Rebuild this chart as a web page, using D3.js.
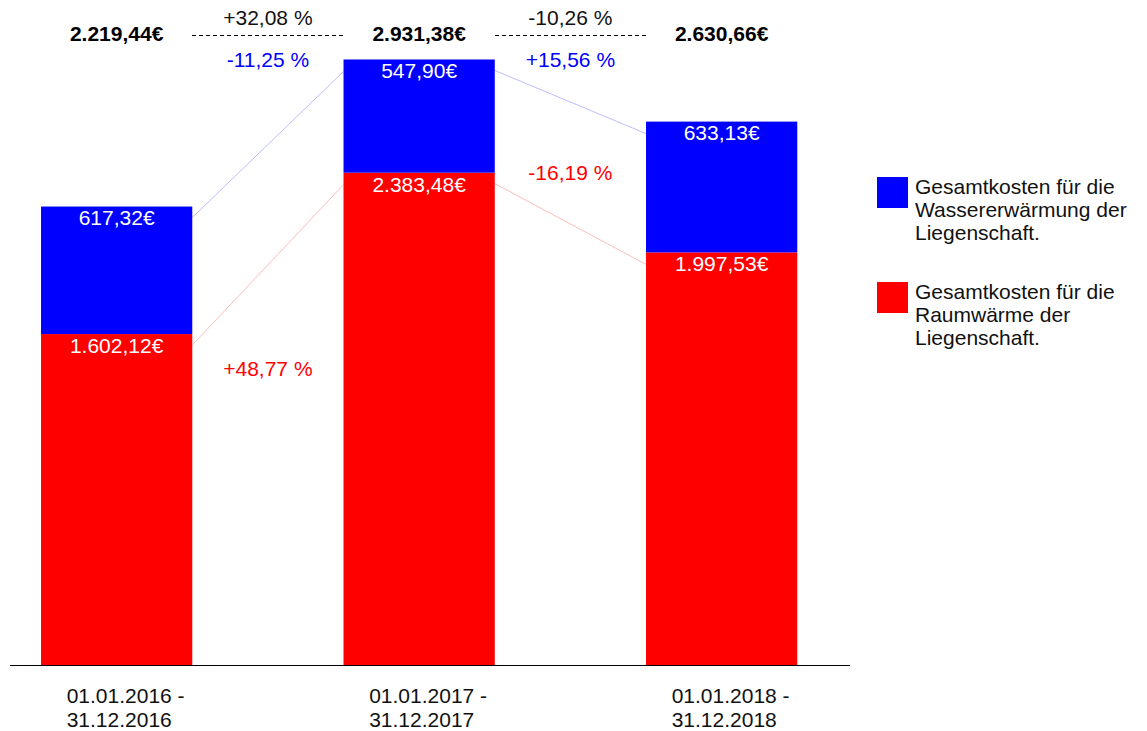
<!DOCTYPE html>
<html>
<head>
<meta charset="utf-8">
<style>
body {margin:0; background:#fff;}
text {font-family:'Liberation Sans', Arial, sans-serif; font-size:21px;}
</style>
<script src="https://d3js.org/d3.v7.min.js"></script>
</head>
<body>
<svg id="chart" width="1147" height="731"></svg>
<script>
// data
var periodStart = ['01.01.2016 -', '01.01.2017 -', '01.01.2018 -'];
var periodEnd   = ['31.12.2016', '31.12.2017', '31.12.2018'];
var heating = [1602.12, 2383.48, 1997.53];   // Raumwärme
var water   = [617.32, 547.90, 633.13];      // Wassererwärmung
var legendWater   = ['Gesamtkosten für die', 'Wassererwärmung der', 'Liegenschaft.'];
var legendHeating = ['Gesamtkosten für die', 'Raumwärme der', 'Liegenschaft.'];

var BLUE = '#0000ff', RED = '#ff0000';
var de = d3.formatLocale({decimal:',', thousands:'.', grouping:[3], currency:['', '€'], minus:'-'});
var fmtEur = function(v) {return de.format(',.2f')(v)+'€';};
var fmtPct = function(v) {return de.format('+.2f')(v*100)+' %';};

var totals = heating.map(function(h,i) {return h+water[i];});
var idx = d3.range(periodStart.length);

var svg = d3.select('#chart');
var x = d3.scaleBand().domain(idx).range([-34.6, 872.9]).paddingInner(0.5).paddingOuter(0.25);
var y = d3.scaleLinear().domain([0, 3200]).range([665, 4]);

// bars
var g = svg.append('g');
g.selectAll('rect.heat').data(idx).enter().append('rect')
 .attr('x', function(i) {return x(i);}).attr('width', x.bandwidth())
 .attr('y', function(i) {return y(heating[i]);})
 .attr('height', function(i) {return y(0)-y(heating[i]);})
 .attr('fill', RED);
g.selectAll('rect.water').data(idx).enter().append('rect')
 .attr('x', function(i) {return x(i);}).attr('width', x.bandwidth())
 .attr('y', function(i) {return y(totals[i]);})
 .attr('height', function(i) {return y(heating[i])-y(totals[i]);})
 .attr('fill', BLUE);

// value labels inside bars
g.selectAll('text.hv').data(idx).enter().append('text')
 .attr('x', function(i) {return x(i)+x.bandwidth()/2;})
 .attr('y', function(i) {return y(heating[i])+19;})
 .attr('text-anchor', 'middle').attr('fill', '#fff')
 .text(function(i) {return fmtEur(heating[i]);});
g.selectAll('text.wv').data(idx).enter().append('text')
 .attr('x', function(i) {return x(i)+x.bandwidth()/2;})
 .attr('y', function(i) {return y(totals[i])+18.5;})
 .attr('text-anchor', 'middle').attr('fill', '#fff')
 .text(function(i) {return fmtEur(water[i]);});

// totals on top
g.selectAll('text.tot').data(idx).enter().append('text')
 .attr('x', function(i) {return x(i)+x.bandwidth()/2;})
 .attr('y', 40.5).attr('text-anchor', 'middle')
 .attr('font-weight', 'bold').attr('fill', '#000')
 .text(function(i) {return fmtEur(totals[i]);});

// connecting lines and change labels between neighbouring bars
var pairs = idx.slice(1);
var redLabelY = [376, 180];
pairs.forEach(function(i, k) {
  var x0 = x(i-1)+x.bandwidth(), x1 = x(i), xm = (x0+x1)/2;
  // total: dashed line with change above
  g.append('line').attr('x1', x0).attr('x2', x1).attr('y1', 35.5).attr('y2', 35.5)
   .attr('stroke', '#000').attr('stroke-width', 1).attr('stroke-dasharray', '4,3')
   .attr('shape-rendering', 'crispEdges');
  g.append('text').attr('x', xm).attr('y', 25).attr('text-anchor', 'middle').attr('fill', '#111')
   .text(fmtPct(totals[i]/totals[i-1]-1));
  // water
  g.append('line').attr('x1', x0).attr('x2', x1)
   .attr('y1', y(totals[i-1])+11).attr('y2', y(totals[i])+12)
   .attr('stroke', BLUE).attr('stroke-width', 0.6).attr('stroke-opacity', 0.45);
  g.append('text').attr('x', xm).attr('y', 66.5).attr('text-anchor', 'middle').attr('fill', BLUE)
   .text(fmtPct(water[i]/water[i-1]-1));
  // heating
  g.append('line').attr('x1', x0).attr('x2', x1)
   .attr('y1', y(heating[i-1])+11).attr('y2', y(heating[i])+12)
   .attr('stroke', RED).attr('stroke-width', 0.6).attr('stroke-opacity', 0.45);
  g.append('text').attr('x', xm).attr('y', redLabelY[k]).attr('text-anchor', 'middle').attr('fill', RED)
   .text(fmtPct(heating[i]/heating[i-1]-1));
});

// x axis line and period labels
svg.append('line').attr('x1', 10).attr('x2', 850).attr('y1', 665.5).attr('y2', 665.5)
   .attr('stroke', '#000').attr('stroke-width', 1);
var lab = svg.selectAll('text.period').data(idx).enter().append('text')
   .attr('fill', '#111');
lab.append('tspan').attr('x', function(i) {return x(i)+x.bandwidth()/2-50;}).attr('y', 703)
   .text(function(i) {return periodStart[i];});
lab.append('tspan').attr('x', function(i) {return x(i)+x.bandwidth()/2-50;}).attr('y', 727)
   .text(function(i) {return periodEnd[i];});

// legend
var legend = [{c:BLUE, t:legendWater, y:177}, {c:RED, t:legendHeating, y:282}];
var lg = svg.selectAll('g.leg').data(legend).enter().append('g')
   .attr('transform', function(d) {return 'translate(877,'+d.y+')';});
lg.append('rect').attr('width', 31).attr('height', 31).attr('fill', function(d) {return d.c;});
lg.each(function(d) {
  var t = d3.select(this).append('text').attr('fill', '#111');
  d.t.forEach(function(s, j) {
    t.append('tspan').attr('x', 38).attr('y', 16.5+j*23.4).text(s);
  });
});
</script>
</body>
</html>
